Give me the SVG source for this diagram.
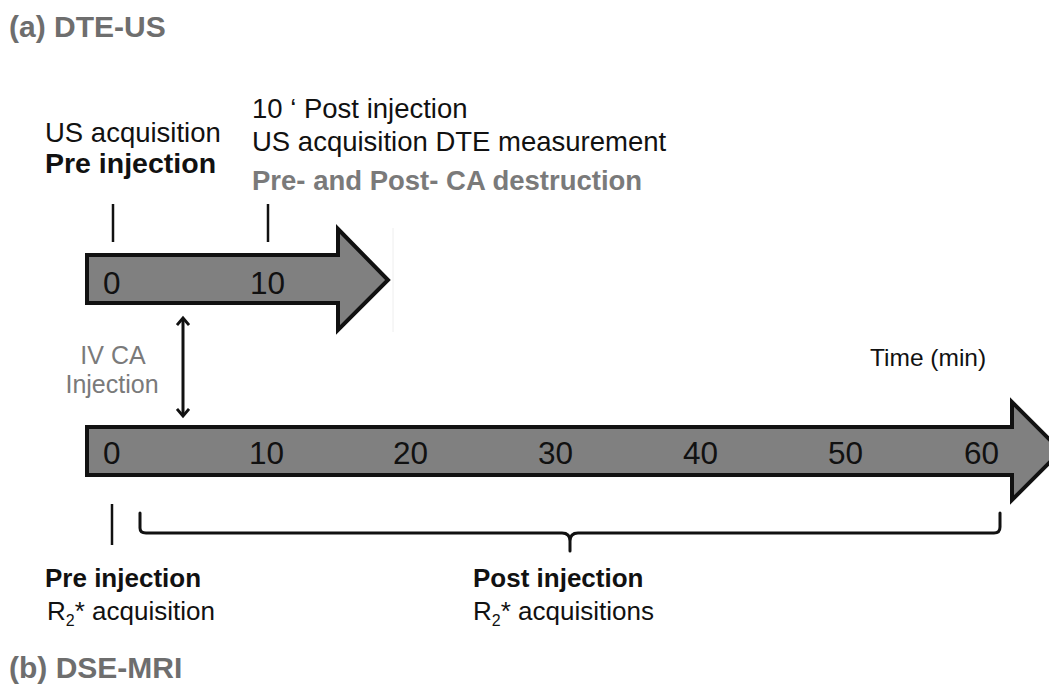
<svg xmlns="http://www.w3.org/2000/svg" width="1049" height="693" viewBox="0 0 1049 693">
<style>
text{font-family:"Liberation Sans",Arial,sans-serif;fill:#111}
.t{font-size:26px}
.b{font-size:26px;font-weight:bold}
.tt{font-size:27.5px}
.tb{font-size:28.5px;font-weight:bold}
.title{font-size:30px;font-weight:bold;fill:#6e6e6e}
.num{font-size:31.5px}
.gray{fill:#7a7a7a}
.arrow{fill:#808080;stroke:#111;stroke-width:4;stroke-linejoin:miter}
.tick{stroke:#111;stroke-width:2.5;fill:none}
.brace{stroke:#111;stroke-width:3;fill:none;stroke-linecap:round;stroke-linejoin:round}
</style>
<defs>
<marker id="head" viewBox="0 0 14 14" refX="7" refY="7" markerWidth="14" markerHeight="14" markerUnits="userSpaceOnUse" orient="auto-start-reverse">
<polyline points="1,1 8,7 1,13" fill="none" stroke="#111" stroke-width="2.8"/>
</marker>
</defs>
<rect width="1049" height="693" fill="#fff"/>
<text class="title" x="9" y="37">(a) DTE-US</text>
<text class="title" x="9" y="678">(b) DSE-MRI</text>
<g id="top-arrow">
<line x1="393" y1="228" x2="393" y2="332" stroke="#eeeeee" stroke-width="1"/>
<polygon class="arrow" points="87,255 338,255 338,229 388,280 338,330 338,303 87,303"/>
<text class="num" x="103" y="294">0</text>
<text class="num" x="250" y="294">10</text>
</g>
<g id="bottom-arrow">
<polygon class="arrow" points="87,427 1012,427 1012,402 1061,451 1012,500 1012,475 87,475"/>
<text class="num" x="103" y="464">0</text>
<text class="num" x="249" y="464">10</text>
<text class="num" x="393" y="464">20</text>
<text class="num" x="538" y="464">30</text>
<text class="num" x="683" y="464">40</text>
<text class="num" x="828" y="464">50</text>
<text class="num" x="964" y="464">60</text>
</g>
<g id="pre-us">
<text class="tt" x="45" y="142">US acquisition</text>
<text class="tb" x="45" y="173">Pre injection</text>
</g>
<g id="post-us">
<text class="tt" x="252" y="118">10 ‘ Post injection</text>
<text class="tt" x="252" y="151">US acquisition DTE measurement</text>
<text class="tb gray" x="252" y="190" style="font-size:27.5px">Pre- and Post- CA destruction</text>
</g>
<g id="injection">
<text class="gray" x="113" y="364" text-anchor="middle" style="font-size:25px">IV CA</text>
<text class="gray" x="112" y="393" text-anchor="middle" style="font-size:25px">Injection</text>
</g>
<g id="time-label">
<text x="870" y="366" style="font-size:24.5px">Time (min)</text>
</g>
<g id="pre-mri">
<text class="b" x="45" y="587">Pre injection</text>
<text class="t" x="47" y="620">R<tspan font-size="16" dy="6">2</tspan><tspan dy="-6">* acquisition</tspan></text>
</g>
<g id="post-mri">
<text class="b" x="473" y="587">Post injection</text>
<text class="t" x="473" y="620">R<tspan font-size="16" dy="6">2</tspan><tspan dy="-6">* acquisitions</tspan></text>
</g>
<g id="connectors">
<line class="tick" x1="113" y1="204" x2="113" y2="242"/>
<line class="tick" x1="268" y1="204" x2="268" y2="242"/>
<line class="tick" x1="112" y1="504" x2="112" y2="545"/>
<path class="brace" d="M140,513 V528 Q140,533 146,533 H562 Q570,533 570,541 V551 M570,541 Q570,533 578,533 H994 Q1000,533 1000,527 V513"/>
<line x1="183" y1="319" x2="183" y2="415" stroke="#111" stroke-width="3" marker-start="url(#head)" marker-end="url(#head)"/>
</g>
</svg>
